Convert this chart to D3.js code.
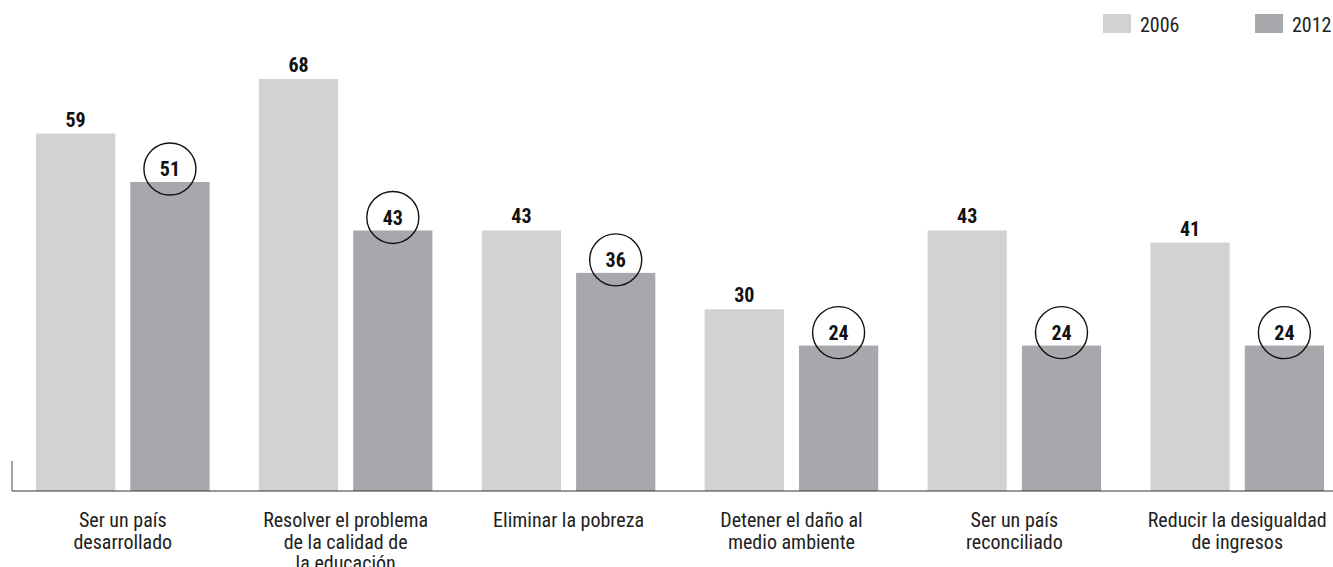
<!DOCTYPE html>
<html>
<head>
<meta charset="utf-8">
<script src="https://cdn.jsdelivr.net/npm/d3@7"></script>
<style>
  html, body { margin: 0; padding: 0; background: #fff; }
  svg { display: block; font-family: "Roboto Condensed", "Liberation Sans Narrow", Roboto, sans-serif; }
</style>
</head>
<body>
<svg id="chart" width="1333" height="567"></svg>
<script>
const categories = [
  ["Ser un país", "desarrollado"],
  ["Resolver el problema", "de la calidad de", "la educación"],
  ["Eliminar la pobreza"],
  ["Detener el daño al", "medio ambiente"],
  ["Ser un país", "reconciliado"],
  ["Reducir la desigualdad", "de ingresos"]
];
const series = ["2006", "2012"];
const values2006 = [59, 68, 43, 30, 43, 41];
const values2012 = [51, 43, 36, 24, 24, 24];
const colors = ["#d1d2d4", "#a7a8ab"];

const svg = d3.select("#chart");
const baseY = 491;
const idx = d3.range(categories.length);

const x0 = d3.scaleBand().domain(idx).range([36, 1324]).paddingInner(0.2214).paddingOuter(0);
const x1 = d3.scaleBand().domain(series).range([0, x0.bandwidth()]).paddingInner(0.16).paddingOuter(0);
const y = d3.scaleLinear().domain([0, 68]).range([baseY, 79]);

const data = idx.map(i => ({ i, vals: [values2006[i], values2012[i]] }));

const g = svg.append("g");
const groups = g.selectAll("g.grp").data(data).enter().append("g")
  .attr("transform", d => `translate(${x0(d.i)},0)`);

groups.selectAll("rect").data(d => d.vals.map((v, k) => ({ v, k }))).enter().append("rect")
  .attr("x", d => x1(series[d.k]))
  .attr("y", d => y(d.v))
  .attr("width", x1.bandwidth())
  .attr("height", d => baseY - y(d.v))
  .attr("fill", d => colors[d.k]);

// 2006 labels
groups.append("text")
  .attr("x", x1("2006") + x1.bandwidth() / 2)
  .attr("y", d => y(d.vals[0]) - 7)
  .attr("text-anchor", "middle")
  .attr("font-weight", "bold")
  .attr("font-size", 20)
  .attr("fill", "#111")
  .text(d => d.vals[0]);

// 2012 circled labels
groups.append("circle")
  .attr("cx", x1("2012") + x1.bandwidth() / 2)
  .attr("cy", d => y(d.vals[1]) - 13)
  .attr("r", 26)
  .attr("fill", "none")
  .attr("stroke", "#111")
  .attr("stroke-width", 1.4);
groups.append("text")
  .attr("x", x1("2012") + x1.bandwidth() / 2)
  .attr("y", d => y(d.vals[1]) - 13)
  .attr("dy", "0.36em")
  .attr("text-anchor", "middle")
  .attr("font-weight", "bold")
  .attr("font-size", 20)
  .attr("fill", "#111")
  .text(d => d.vals[1]);

// axis
const xAxis = d3.axisBottom(x0).tickSize(0).tickFormat("");
const axG = svg.append("g").attr("transform", `translate(0,${baseY})`).call(xAxis);
axG.select(".domain").remove();
svg.append("line").attr("x1", 12).attr("x2", 1333).attr("y1", baseY).attr("y2", baseY)
  .attr("stroke", "#333").attr("stroke-width", 1.2);
svg.append("line").attr("x1", 12).attr("x2", 12).attr("y1", 461).attr("y2", baseY)
  .attr("stroke", "#666").attr("stroke-width", 1.2);

// category labels
const lbl = svg.selectAll("text.cat").data(categories).enter().append("text")
  .attr("class", "cat")
  .attr("text-anchor", "middle")
  .attr("font-size", 20)
  .attr("fill", "#222")
  .attr("transform", (d, i) => `translate(${x0(i) + x0.bandwidth() / 2},0)`);
lbl.selectAll("tspan").data(d => d).enter().append("tspan")
  .attr("x", 0)
  .attr("y", (d, j) => 527 + j * 21.5)
  .text(d => d);

// legend
const legX = [1103, 1255];
series.forEach((s, k) => {
  svg.append("rect").attr("x", legX[k]).attr("y", 14).attr("width", 28).attr("height", 19).attr("fill", colors[k]);
  svg.append("text").attr("x", legX[k] + 37).attr("y", 32).attr("font-size", 20).attr("fill", "#222").text(s);
});
</script>
</body>
</html>
